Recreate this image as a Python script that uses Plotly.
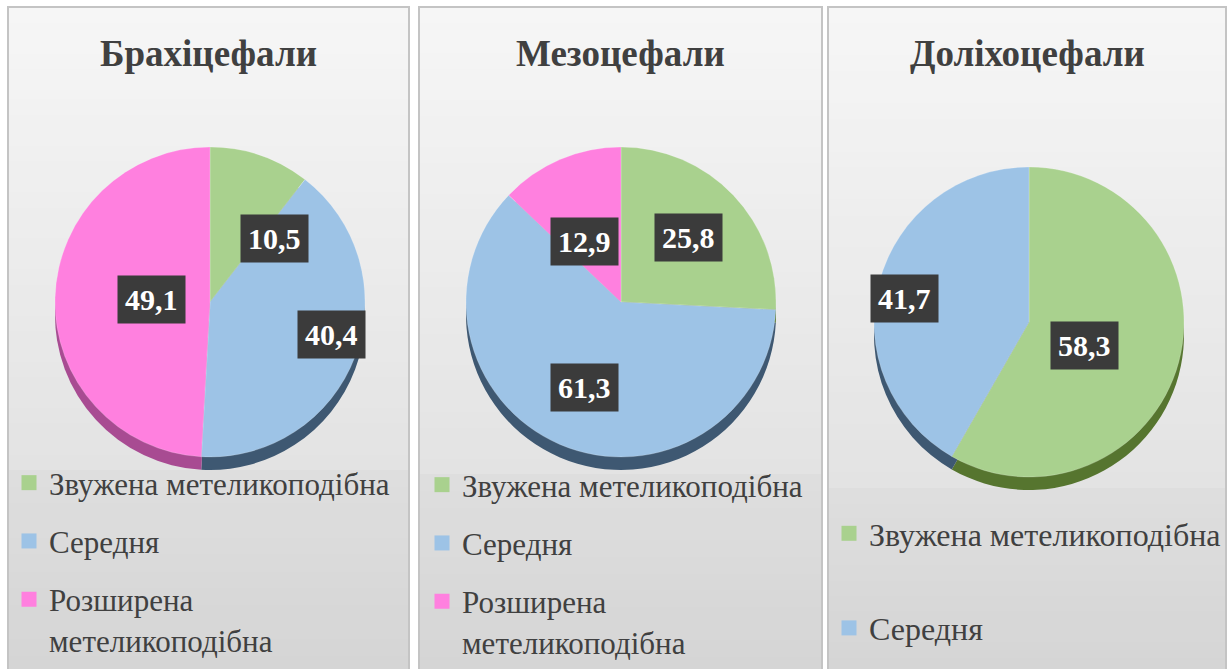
import math
import plotly.graph_objects as go

# ---------------- data ----------------
panel_titles = ["Брахіцефали", "Мезоцефали", "Доліхоцефали"]
categories = ["Звужена метеликоподібна", "Середня", "Розширена метеликоподібна"]
legend_labels = ["Звужена метеликоподібна", "Середня", "Розширена<br>метеликоподібна"]
brachy_values = [10.5, 40.4, 49.1]
mezo_values = [25.8, 61.3, 12.9]
dolicho_values = [58.3, 41.7]

series = [brachy_values, mezo_values, dolicho_values]

# ---------------- style ----------------
W, H = 1227, 669
SERIF = "Liberation Serif"
top_colors = ["#A9D18E", "#9DC3E6", "#FF80DF"]
side_colors = ["#56752f", "#3e5872", "#a84b92"]
panels_px = [(8, 409), (419, 822), (828, 1226)]
split_px = [470, 474, 488]
centers_px = [(210, 302), (621, 302), (1029, 322)]
R = 155
DEPTH = 13
legend_pos = [(9, 456), (422, 458), (829, 506)]
legend_gap = [15, 15, 50]
legend_size = [31, 31, 32]


def px_x(x):
    return x / W


def px_y(y):
    return 1 - y / H


def mix(c1, c2, t):
    a = [int(c1[i:i + 2], 16) for i in (1, 3, 5)]
    b = [int(c2[i:i + 2], 16) for i in (1, 3, 5)]
    return "#%02x%02x%02x" % tuple(round(a[k] + (b[k] - a[k]) * t) for k in range(3))


fig = go.Figure()
shapes = []
annotations = []

# panel backgrounds (gradient bands) and borders
for p, (x0, x1) in enumerate(panels_px):
    top, split, bottom = 7, split_px[p], H + 4
    n = 30
    for i in range(n):
        ya = top + (split - top) * i / n
        yb = top + (split - top) * (i + 1) / n + 1.5
        shapes.append(dict(type="rect", xref="paper", yref="paper",
                           x0=px_x(x0), x1=px_x(x1), y0=px_y(min(yb, split)), y1=px_y(ya),
                           fillcolor=mix("#f6f6f6", "#e3e3e3", i / (n - 1)),
                           line=dict(width=0), layer="below"))
    n2 = 12
    for i in range(n2):
        ya = split + (bottom - split) * i / n2
        yb = split + (bottom - split) * (i + 1) / n2 + 1.5
        shapes.append(dict(type="rect", xref="paper", yref="paper",
                           x0=px_x(x0), x1=px_x(x1), y0=px_y(yb), y1=px_y(ya),
                           fillcolor=mix("#dedede", "#d5d5d5", i / (n2 - 1)),
                           line=dict(width=0), layer="below"))
    shapes.append(dict(type="rect", xref="paper", yref="paper",
                       x0=px_x(x0), x1=px_x(x1), y0=px_y(H + 5), y1=px_y(top),
                       fillcolor="rgba(0,0,0,0)",
                       line=dict(width=2, color="#c4c4c4"), layer="below"))

# pies
for p, vals in enumerate(series):
    cx, cy = centers_px[p]
    n = len(vals)
    # side (depth) of the 3D pie
    fig.add_trace(go.Pie(
        labels=categories[:n], values=vals, sort=False, direction="clockwise",
        rotation=0, textinfo="none", hoverinfo="skip", showlegend=False,
        marker=dict(colors=side_colors[:n], line=dict(width=0)),
        domain=dict(x=[px_x(cx - R), px_x(cx + R)],
                    y=[px_y(cy + R + DEPTH), px_y(cy - R + DEPTH)]),
    ))
    # top face
    fig.add_trace(go.Pie(
        labels=categories[:n], values=vals, sort=False, direction="clockwise",
        rotation=0, textinfo="none", showlegend=False,
        marker=dict(colors=top_colors[:n], line=dict(width=0.5, color="rgba(255,255,255,0.4)")),
        domain=dict(x=[px_x(cx - R), px_x(cx + R)],
                    y=[px_y(cy + R), px_y(cy - R)]),
    ))
    # data labels in dark boxes, placed at slice mid-angles
    total = sum(vals)
    cum = 0
    for v in vals:
        mid = (cum + v / 2) / total * 2 * math.pi
        cum += v
        k = 0.6
        lx = cx + k * R * math.sin(mid)
        ly = cy - k * R * math.cos(mid)
        annotations.append(dict(
            x=px_x(lx), y=px_y(ly), xref="paper", yref="paper", showarrow=False,
            text="<b>%s</b>" % ("%.1f" % v).replace(".", ","),
            font=dict(family=SERIF, size=30, color="white"),
            bgcolor="#3b3b3b", borderpad=7,
        ))
    # title
    x0, x1 = panels_px[p]
    annotations.append(dict(
        x=px_x((x0 + x1) / 2), y=px_y(53), xref="paper", yref="paper",
        showarrow=False, text="<b>%s</b>" % panel_titles[p],
        font=dict(family=SERIF, size=37, color="#404040"),
        xanchor="center", yanchor="middle",
    ))
    # legend entries
    lname = "legend" if p == 0 else "legend%d" % (p + 1)
    for i in range(n):
        fig.add_trace(go.Scatter(
            x=[None], y=[None], mode="markers", name=legend_labels[i],
            marker=dict(symbol="square", size=15, color=top_colors[i]),
            legend=lname, legendgroup="g%d_%d" % (p, i), showlegend=True,
        ))

legend_common = dict(
    bgcolor="rgba(0,0,0,0)", borderwidth=0, orientation="v",
    xanchor="left", yanchor="top", valign="top",
    itemclick=False, itemdoubleclick=False,
)
layout_legends = {}
for p in range(3):
    lname = "legend" if p == 0 else "legend%d" % (p + 1)
    lx, ly = legend_pos[p]
    layout_legends[lname] = dict(legend_common, x=px_x(lx), y=px_y(ly),
                                 tracegroupgap=legend_gap[p],
                                 font=dict(family=SERIF, size=legend_size[p], color="#404040"))

fig.update_layout(
    width=W, height=H,
    margin=dict(l=0, r=0, t=0, b=0, autoexpand=False),
    paper_bgcolor="white", plot_bgcolor="rgba(0,0,0,0)",
    xaxis=dict(visible=False, range=[0, 1]),
    yaxis=dict(visible=False, range=[0, 1]),
    shapes=shapes, annotations=annotations,
    separators=", ",
    **layout_legends,
)

fig.write_html("out.html", config=dict(displayModeBar=False),
               post_script="document.body.style.margin='0';document.body.style.overflow='hidden';")
